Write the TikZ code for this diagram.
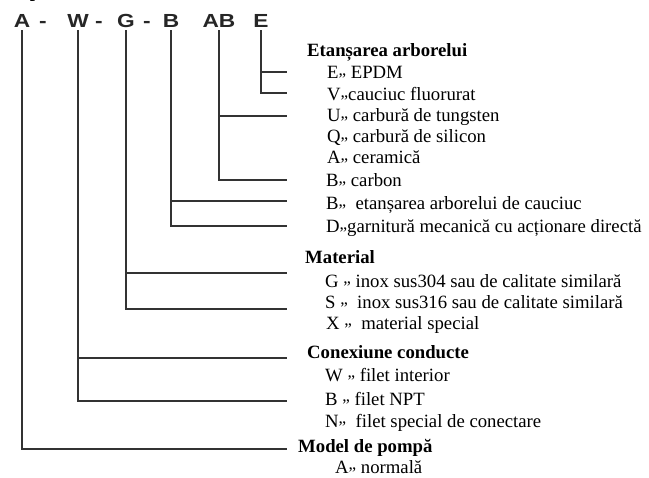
\documentclass[tikz,border=0pt]{standalone}
\usepackage{fontspec}
\setmainfont{Liberation Serif}
\newfontfamily\arialfont{Liberation Sans}
\newcommand{\qq}{\raisebox{0.2em}{\fontsize{17}{17}\selectfont„}}
\begin{document}
\begin{tikzpicture}[x=1bp,y=-1bp,
  conn/.style={draw=black!80, line width=1.2bp},
  code/.style={font=\arialfont\bfseries\fontsize{19}{19}\selectfont, text=black!85, inner sep=0pt, anchor=base},
  head/.style={font=\bfseries\fontsize{18.8}{18.8}\selectfont, inner sep=0pt, anchor=base west},
  item/.style={font=\fontsize{18.8}{18.8}\selectfont, inner sep=0pt, anchor=base west}]
\useasboundingbox (0,0) rectangle (649,478);
% cut-off title fragments
\node[head, anchor=base] (tp) at (35,-2.8) {p};
\node[head, anchor=base] (tc) at (82,-2.8) {,};
% code letters
\node[code] (lA) at (22,28) {\scalebox{1.2}[1]{A}};
\node[code] (d1) at (43,28) {\scalebox{1.2}[1]{-}};
\node[code] (lW) at (78,28) {\scalebox{1.2}[1]{W}};
\node[code] (d2) at (99,28) {\scalebox{1.2}[1]{-}};
\node[code] (lG) at (126,28) {\scalebox{1.2}[1]{G}};
\node[code] (d3) at (147,28) {\scalebox{1.2}[1]{-}};
\node[code] (lB) at (171,28) {\scalebox{1.2}[1]{B}};
\node[code] (lAB) at (219,28) {\scalebox{1.2}[1]{AB}};
\node[code] (lE) at (261,28) {\scalebox{1.2}[1]{E}};
% right ends
\foreach \n/\y in {e1/72,e2/93,ab1/116,ab2/180,b1/201,b2/226,g1/273,g2/309,w1/358,w2/401,a1/449}
  \coordinate (\n) at (287,\y);
% connectors
\draw[conn] ([yshift=-2bp]lE.south) |- (e1);
\draw[conn] ([yshift=-2bp]lE.south) |- (e2);
\draw[conn] ([yshift=-2bp]lAB.south) |- (ab1);
\draw[conn] ([yshift=-2bp]lAB.south) |- (ab2);
\draw[conn] ([yshift=-2bp]lB.south) |- (b1);
\draw[conn] ([yshift=-2bp]lB.south) |- (b2);
\draw[conn] ([yshift=-2bp]lG.south) |- (g1);
\draw[conn] ([yshift=-2bp]lG.south) |- (g2);
\draw[conn] ([yshift=-2bp]lW.south) |- (w1);
\draw[conn] ([yshift=-2bp]lW.south) |- (w2);
\draw[conn] ([yshift=-2bp]lA.south) |- (a1);
% texts
\node[head] (h1) at (307,57) {Etanșarea arborelui};
\node[item] (t1) at (327,79) {E\qq\ EPDM};
\node[item] (t2) at (327,101) {V\qq cauciuc fluorurat};
\node[item] (t3) at (327,122) {U\qq\ carbură de tungsten};
\node[item] (t4) at (327,143) {Q\qq\ carbură de silicon};
\node[item] (t5) at (327,164) {A\qq\ ceramică};
\node[item] (t6) at (326,187) {B\qq\ carbon};
\node[item] (t7) at (326,210) {B\qq\ \ etanșarea arborelui de cauciuc};
\node[item] (t8) at (326,233) {D\qq garnitură mecanică cu acționare directă};
\node[head] (h2) at (305,263) {Material};
\node[item] (t9) at (325,287) {G \qq\ inox sus304 sau de calitate similară};
\node[item] (t10) at (325,308) {S \qq\ \ inox sus316 sau de calitate similară};
\node[item] (t11) at (326,329) {X \qq\ \ material special};
\node[head] (h3) at (307,358) {Conexiune conducte};
\node[item] (t12) at (325,381) {W \qq\ filet interior};
\node[item] (t13) at (325,405) {B \qq\ filet NPT};
\node[item] (t14) at (325,427) {N\qq\ \ filet special de conectare};
\node[head] (h4) at (298,452) {Model de pompă};
\node[item] (t15) at (335,473) {A\qq\ normală};
\end{tikzpicture}
\end{document}
